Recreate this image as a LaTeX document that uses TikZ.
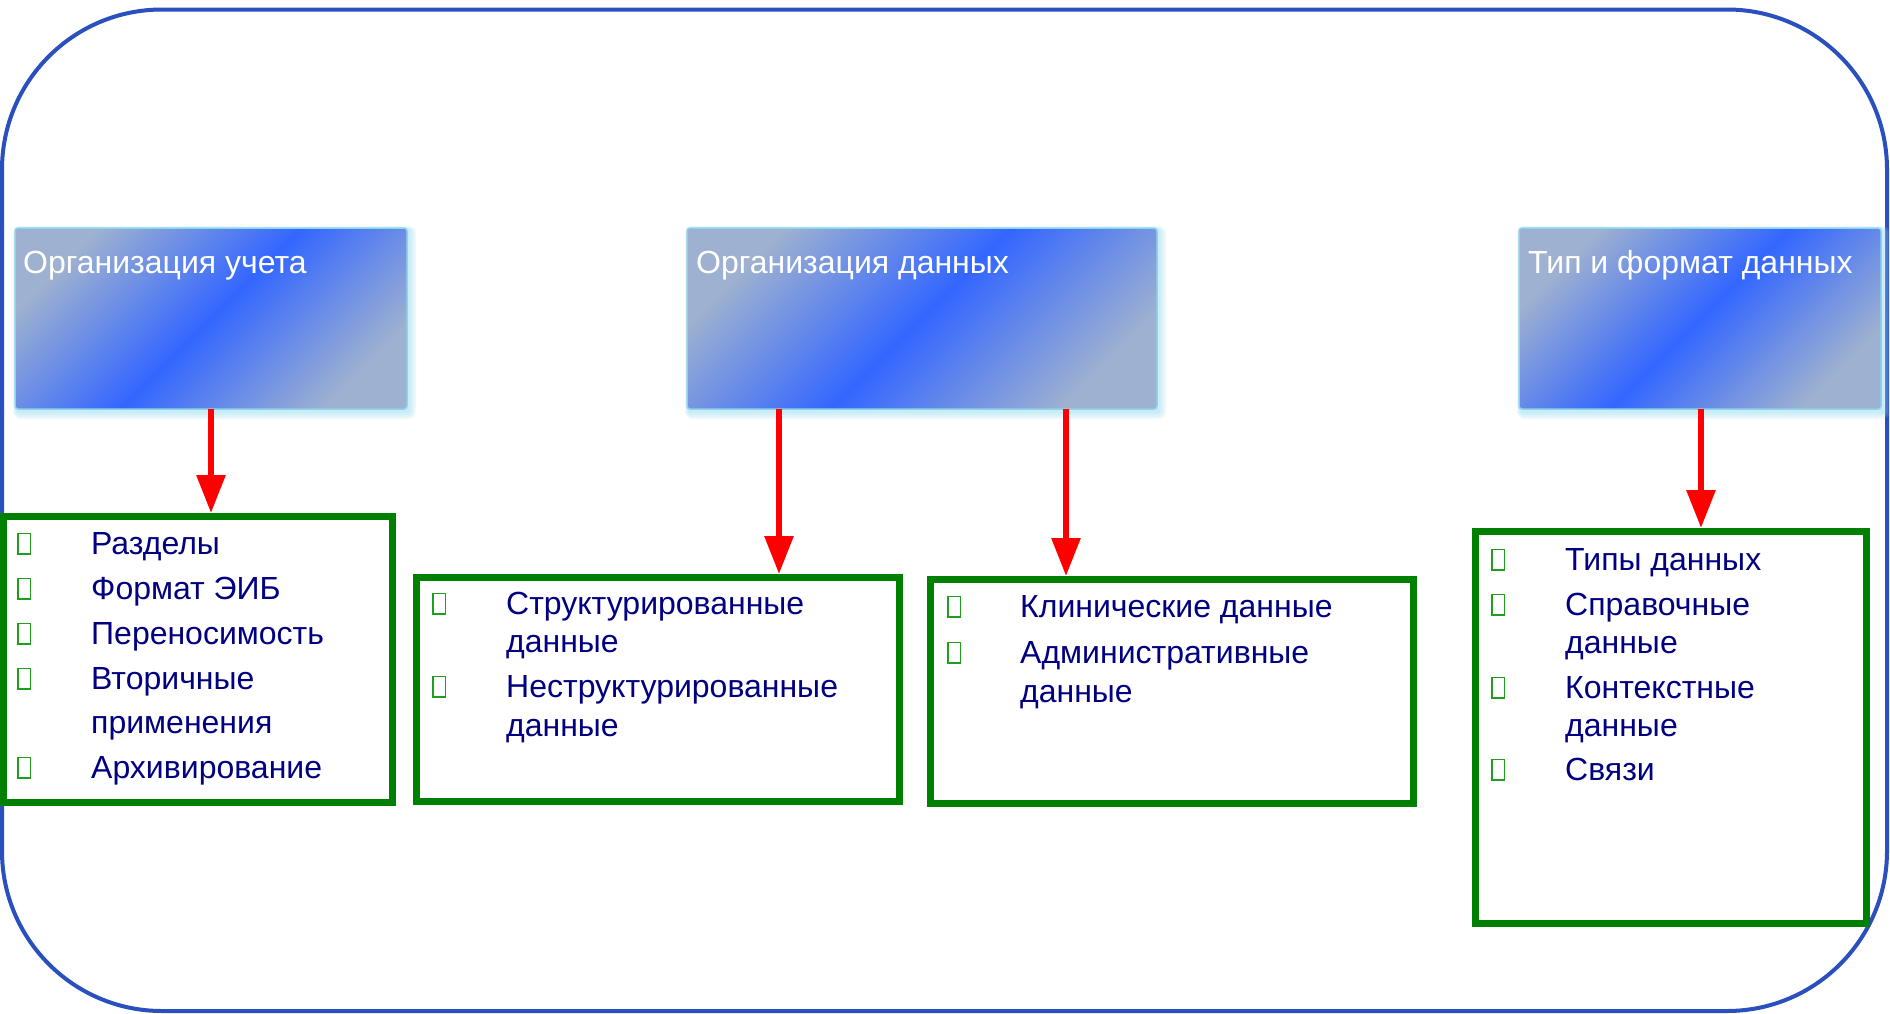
\documentclass[tikz,border=0pt]{standalone}
\usepackage{fontspec}
\setmainfont{Liberation Sans}
\usetikzlibrary{arrows.meta}
\definecolor{frameblue}{RGB}{42,79,190}
\definecolor{boxgray}{RGB}{158,177,208}
\definecolor{boxblue}{RGB}{51,102,255}
\definecolor{boxedge}{RGB}{140,212,236}
\definecolor{halo}{RGB}{150,220,242}
\definecolor{gframe}{RGB}{0,128,0}
\definecolor{bulgreen}{RGB}{30,160,30}
\definecolor{navytext}{RGB}{0,0,128}
\pgfdeclareverticalshading{hdrshade}{100bp}{color(0bp)=(boxgray); color(34bp)=(boxgray); color(50bp)=(boxblue); color(66bp)=(boxgray); color(100bp)=(boxgray)}
\tikzset{
  frame/.style={draw=frameblue, line width=4pt, rounded corners=160pt},
  bluebox/.style={rectangle, draw=boxedge, line width=1.5pt, outer sep=0pt, rounded corners=3pt,
    minimum height=181pt, anchor=north west, inner sep=0pt,
    path picture={\shade[shading=hdrshade, shading angle=45]
      ([xshift=-#1/2, yshift=-#1/2]path picture bounding box.center) rectangle
      ([xshift=#1/2, yshift=#1/2]path picture bounding box.center);}},
  gbox/.style={rectangle, draw=gframe, line width=7pt, fill=white, anchor=north west, inner sep=0pt},
  titletext/.style={anchor=base west, inner sep=0pt, text=white, font=\fontsize{32}{38}\selectfont},
  itemtext/.style={anchor=base west, inner sep=0pt, text=navytext, font=\fontsize{32}{38}\selectfont},
  bulletbox/.style={draw=bulgreen, line width=1.6pt},
  redarrow/.style={draw=red, line width=6pt, -{Triangle[width=28pt,length=38pt]}, red}
}
\newcommand{\bulitem}[5]{%
  \draw[bulletbox] (#2,#4) rectangle ++(12.5,-20.5);
  \node[itemtext] (#1) at (#3,#4) {#5};}
\newcommand{\contline}[4]{\node[itemtext] (#1) at (#2,#3) {#4};}
\begin{document}
\begin{tikzpicture}[x=1pt,y=-1pt]
\useasboundingbox (0,0) rectangle (1890,1013);
\fill[white] (0,0) rectangle (1890,1013);
\draw[frame] (2,9.5) rectangle (1887,1011);
% halos
\foreach \lx/\rx in {15/407,687/1157,1519/1881}{
  \foreach \d in {2,4,6,8}{
    \fill[halo, opacity=0.16, rounded corners=\d pt] (\lx-\d/2+2,228-\d/2+2) rectangle (\rx+\d+1,409+\d+2);
  }
}
% blue header boxes
\node[bluebox=449pt, minimum width=392pt] (b1) at (15,228) {};
\node[bluebox=508pt, minimum width=470pt] (b2) at (687,228) {};
\node[bluebox=424pt, minimum width=362pt] (b3) at (1519,228) {};
\node[titletext] (t1) at (23,273) {Организация учета};
\node[titletext] (t2) at (696,273) {Организация данных};
\node[titletext] (t3) at (1528,273) {Тип и формат данных};
% green boxes
\node[gbox, minimum width=389pt, minimum height=286pt] (g1) at (0,513) {};
\node[gbox, minimum width=483pt, minimum height=224pt] (g2) at (413,574) {};
\node[gbox, minimum width=483pt, minimum height=224pt] (g3) at (927,576) {};
\node[gbox, minimum width=391pt, minimum height=392pt] (g4) at (1472,528) {};
% arrows
\coordinate (a1) at (b1.south);
\coordinate (a2) at ([xshift=92pt]b2.south west);
\coordinate (a3) at ([xshift=379pt]b2.south west);
\coordinate (a4) at ([xshift=1pt]b3.south);
\draw[redarrow] (a1) -- (a1 |- g1.north);
\draw[redarrow] (a2) -- (a2 |- g2.north);
\draw[redarrow] (a3) -- (a3 |- g3.north);
\draw[redarrow] (a4) -- (a4 |- g4.north);
% box 1 items
\bulitem{i11}{18}{91}{554}{Разделы}
\bulitem{i12}{18}{91}{599}{Формат ЭИБ}
\bulitem{i13}{18}{91}{644}{Переносимость}
\bulitem{i14}{18}{91}{689}{Вторичные}
\contline{i14b}{91}{733}{применения}
\bulitem{i15}{18}{91}{778}{Архивирование}
% box 2 items
\bulitem{i21}{433}{506}{614}{Структурированные}
\contline{i21b}{506}{652}{данные}
\bulitem{i22}{433}{506}{697}{Неструктурированные}
\contline{i22b}{506}{736}{данные}
% box 3 items
\bulitem{i31}{948}{1020}{617}{Клинические данные}
\bulitem{i32}{948}{1020}{663}{Административные}
\contline{i32b}{1020}{702}{данные}
% box 4 items
\bulitem{i41}{1492}{1565}{570}{Типы данных}
\bulitem{i42}{1492}{1565}{615}{Справочные}
\contline{i42b}{1565}{653}{данные}
\bulitem{i43}{1492}{1565}{698}{Контекстные}
\contline{i43b}{1565}{736}{данные}
\bulitem{i44}{1492}{1565}{780}{Связи}
\end{tikzpicture}
\end{document}
